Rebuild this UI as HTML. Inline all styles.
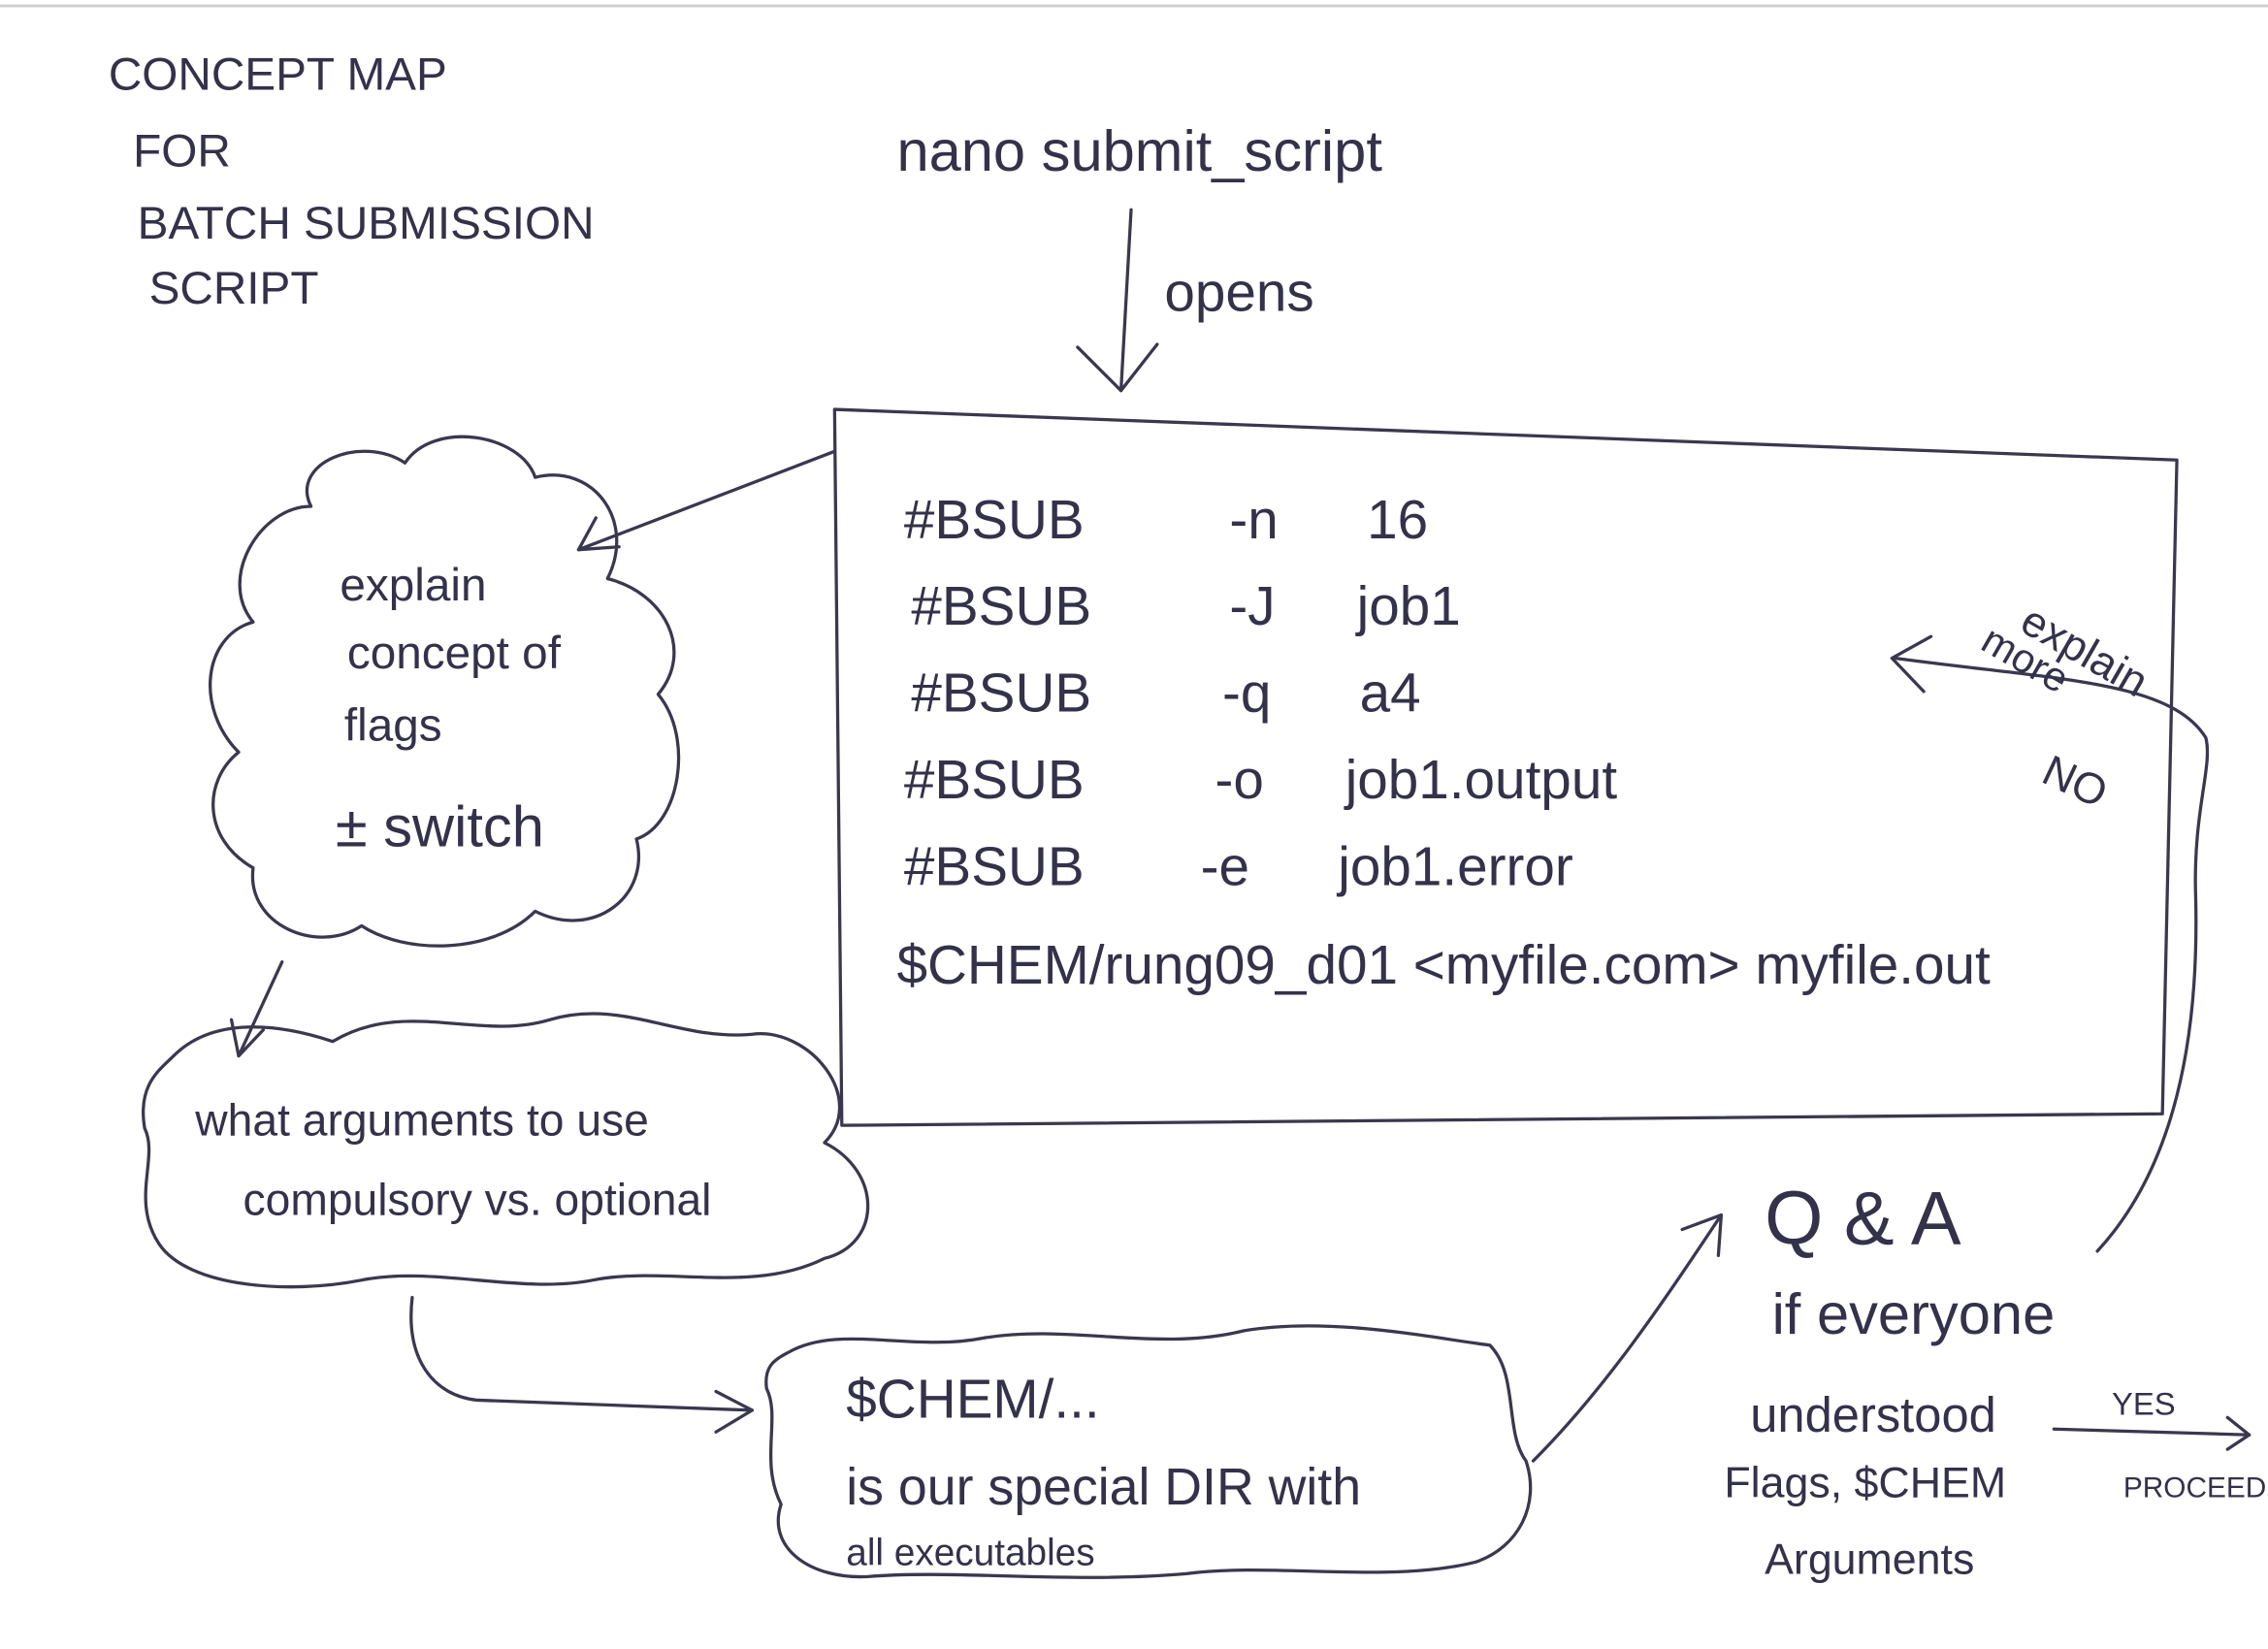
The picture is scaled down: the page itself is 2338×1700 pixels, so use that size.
<!DOCTYPE html>
<html><head><meta charset="utf-8"><style>
html,body{margin:0;padding:0;background:#fff;}
svg{display:block}
text{font-family:"Liberation Sans",sans-serif;fill:#34324a;}
</style></head><body>
<svg width="2338" height="1700" viewBox="0 0 1568 1140" xmlns="http://www.w3.org/2000/svg">
<rect width="1568" height="1140" fill="#fff"/>
<line x1="0" y1="4" x2="1568" y2="4" stroke="#ccc" stroke-width="2"/>
<g fill="none" stroke="#3a384f" stroke-width="2.2" stroke-linecap="round" stroke-linejoin="round">
<!-- top arrow -->
<path d="M782,145 L775,270"/><path d="M745,240 L775,270 L800,238"/>
<!-- box -->
<path d="M577,283 L1505,318 L1495,770 L582,778 Z"/>
<!-- box to cloud1 -->
<path d="M577,312 L400,380"/><path d="M412,358 L400,380 L428,378"/>
<!-- cloud1 -->
<path d="M215,350 C200,320 250,300 280,320 C300,290 360,300 370,330 C410,320 440,360 420,400 C460,410 480,450 455,480 C480,510 470,570 440,580 C450,620 410,650 370,630 C340,660 280,660 250,640 C220,660 170,640 175,600 C140,580 140,540 165,520 C135,490 140,440 175,430 C150,400 180,350 215,350 Z"/>
<path d="M195,665 L165,730"/><path d="M160,705 L165,730 L182,712"/>
<!-- cloud2 -->
<path d="M120,730 C150,700 200,710 230,720 C280,690 330,720 380,705 C430,690 470,720 520,715 C560,710 600,760 570,790 C610,810 610,860 570,870 C520,895 460,875 410,885 C360,895 300,875 250,885 C200,895 130,890 110,860 C90,830 110,800 100,780 C95,750 110,740 120,730 Z"/>
<!-- cloud2 to cloud3 -->
<path d="M285,897 C280,940 300,965 330,968 L520,975"/><path d="M495,962 L520,975 L495,990"/>
<!-- cloud3 -->
<path d="M545,935 C580,915 630,935 680,925 C740,915 800,935 860,920 C920,910 990,925 1030,930 C1050,950 1040,990 1055,1010 C1065,1040 1050,1070 1020,1080 C960,1095 880,1080 820,1088 C740,1095 660,1085 600,1090 C560,1092 530,1070 540,1040 C525,1010 540,980 530,960 C528,945 535,940 545,935 Z"/>
<!-- cloud3 to Q&A -->
<path d="M1060,1010 C1110,960 1150,900 1190,840"/><path d="M1163,850 L1190,840 L1188,868"/>
<!-- YES arrow -->
<path d="M1420,988 L1555,992"/><path d="M1540,980 L1555,992 L1540,1002"/>
<!-- NO loop -->
<path d="M1450,865 C1510,800 1520,700 1518,620 C1516,560 1530,530 1525,510 C1500,470 1420,470 1310,455"/><path d="M1335,440 L1308,455 L1330,478"/>
</g>
<g font-size="32">
<text x="75" y="62">CONCEPT MAP</text>
<text x="92" y="115">FOR</text>
<text x="95" y="165">BATCH SUBMISSION</text>
<text x="103" y="210">SCRIPT</text>
</g>
<text x="620" y="118" font-size="40">nano  submit_script</text>
<text x="805" y="215" font-size="38">opens</text>
<g font-size="38">
<text x="625" y="372">#BSUB</text><text x="850" y="372">-n</text><text x="945" y="372">16</text>
<text x="630" y="432">#BSUB</text><text x="850" y="432">-J</text><text x="938" y="432">job1</text>
<text x="630" y="492">#BSUB</text><text x="845" y="492">-q</text><text x="940" y="492">a4</text>
<text x="625" y="552">#BSUB</text><text x="840" y="552">-o</text><text x="930" y="552">job1.output</text>
<text x="625" y="612">#BSUB</text><text x="830" y="612">-e</text><text x="925" y="612">job1.error</text>
<text x="620" y="680">$CHEM/rung09_d01  &lt;myfile.com&gt; myfile.out</text>
</g>
<g font-size="32">
<text x="235" y="415">explain</text>
<text x="240" y="462">concept of</text>
<text x="238" y="512">flags</text>
<text x="232" y="585" font-size="40">± switch</text>
</g>
<text x="135" y="785" font-size="31">what arguments to use</text>
<text x="168" y="840" font-size="31">compulsory vs. optional</text>
<text x="585" y="980" font-size="38">$CHEM/...</text>
<text x="585" y="1040" font-size="36">is our special DIR with</text>
<text x="585" y="1082" font-size="26">all executables</text>
<text x="1220" y="860" font-size="52">Q &amp; A</text>
<text x="1225" y="922" font-size="40">if everyone</text>
<text x="1210" y="990" font-size="34">understood</text>
<text x="1460" y="978" font-size="22">YES</text>
<text x="1468" y="1035" font-size="20">PROCEED</text>
<text x="1192" y="1035" font-size="30">Flags, $CHEM</text>
<text x="1220" y="1088" font-size="30">Arguments</text>
<text x="1395" y="435" font-size="30" transform="rotate(30 1395 435)">explain</text>
<text x="1368" y="448" font-size="28" transform="rotate(30 1368 448)">more</text>
<text x="1410" y="540" font-size="30" transform="rotate(25 1410 540)">NO</text>
</svg>
</body></html>
